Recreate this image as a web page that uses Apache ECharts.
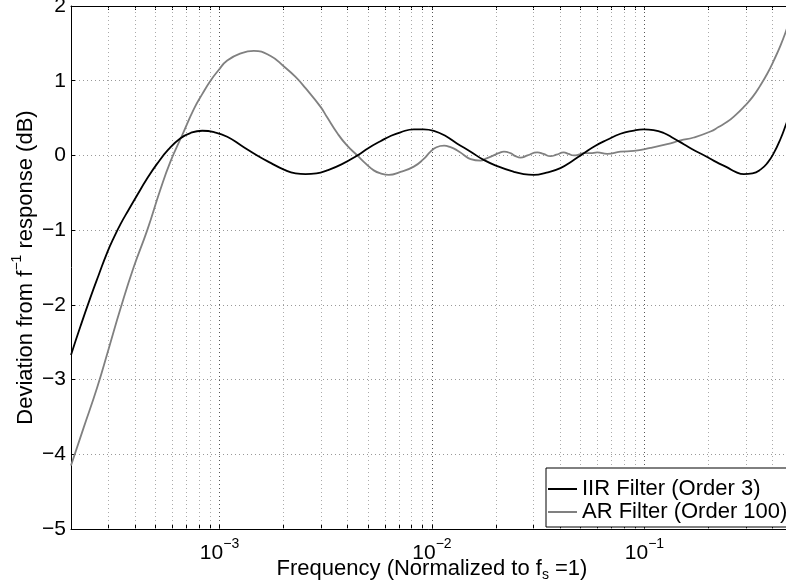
<!DOCTYPE html>
<html>
<head>
<meta charset="utf-8">
<script src="https://cdn.jsdelivr.net/npm/echarts@6/dist/echarts.min.js"></script>
<style>
  html, body { margin: 0; padding: 0; background: #fff; }
  #chart { width: 786px; height: 588px; }
</style>
</head>
<body>
<div id="chart"></div>
<script>
// IIR filter (order 3): frequency (normalized) and deviation in dB
const iirFreq = [2.00e-4, 2.22e-4, 2.47e-4, 2.70e-4, 2.96e-4, 3.17e-4, 3.42e-4, 3.73e-4, 4.10e-4, 4.54e-4,
  5.09e-4, 5.75e-4, 6.55e-4, 7.30e-4, 8.29e-4, 9.47e-4, 1.087e-3, 1.27e-3, 1.504e-3, 1.74e-3,
  2.01e-3, 2.28e-3, 2.54e-3, 2.86e-3, 3.21e-3, 3.75e-3, 4.45e-3, 5.03e-3, 5.72e-3, 6.38e-3,
  7.11e-3, 8.21e-3, 9.12e-3, 1.02e-2, 1.16e-2, 1.31e-2, 1.52e-2, 1.75e-2, 2.06e-2, 2.43e-2,
  2.70e-2, 3.01e-2, 3.46e-2, 4.02e-2, 4.54e-2, 5.18e-2, 5.88e-2, 6.68e-2, 7.71e-2, 8.78e-2,
  9.92e-2, 0.1103, 0.1233, 0.1369, 0.1531, 0.1738, 0.1973, 0.2182, 0.2451, 0.2681,
  0.2934, 0.3222, 0.3515, 0.3792, 0.4059, 0.4365, 0.4658, 0.5];
const iirDev = [-2.67, -2.28, -1.90, -1.60, -1.30, -1.11, -0.92, -0.73, -0.53, -0.32,
  -0.11, 0.08, 0.23, 0.30, 0.33, 0.31, 0.25, 0.13, 0.0, -0.10,
  -0.19, -0.24, -0.25, -0.24, -0.20, -0.12, 0.0, 0.10, 0.19, 0.26,
  0.31, 0.35, 0.35, 0.33, 0.26, 0.16, 0.05, -0.06, -0.15, -0.22,
  -0.25, -0.26, -0.23, -0.17, -0.08, 0.03, 0.13, 0.21, 0.29, 0.33,
  0.35, 0.34, 0.30, 0.23, 0.15, 0.06, -0.02, -0.09, -0.16, -0.22,
  -0.25, -0.24, -0.19, -0.10, 0.03, 0.22, 0.43, 0.65];

// AR filter (order 100)
const arFreq = [2.00e-4, 2.29e-4, 2.66e-4, 3.00e-4, 3.42e-4, 3.94e-4, 4.57e-4, 5.25e-4, 5.88e-4, 6.67e-4,
  7.57e-4, 8.29e-4, 9.07e-4, 9.89e-4, 1.087e-3, 1.27e-3, 1.45e-3, 1.74e-3, 2.01e-3, 2.28e-3,
  2.54e-3, 2.99e-3, 3.21e-3, 3.58e-3, 3.96e-3, 4.45e-3, 4.92e-3, 5.32e-3, 5.72e-3, 6.26e-3,
  7.11e-3, 8.21e-3, 9.12e-3, 9.84e-3, 1.05e-2, 1.14e-2, 1.222e-2, 1.31e-2, 1.407e-2, 1.52e-2,
  1.69e-2, 1.805e-2, 1.95e-2, 2.06e-2, 2.18e-2, 2.341e-2, 2.472e-2, 2.61e-2, 2.815e-2, 3.13e-2,
  3.347e-2, 3.61e-2, 3.854e-2, 4.17e-2, 4.389e-2, 4.65e-2, 4.893e-2, 5.18e-2, 5.57e-2, 5.99e-2,
  6.68e-2, 7.71e-2, 8.91e-2, 0.1067, 0.1279, 0.1477, 0.1706, 0.2045, 0.2230, 0.2451,
  0.2681, 0.2934, 0.3222, 0.3515, 0.3792, 0.4059, 0.4365, 0.4658, 0.5];
const arDev = [-4.15, -3.65, -3.10, -2.60, -2.05, -1.50, -1.00, -0.47, -0.08, 0.27,
  0.62, 0.82, 1.0, 1.14, 1.27, 1.37, 1.40, 1.33, 1.19, 1.05,
  0.90, 0.65, 0.51, 0.30, 0.14, 0.0, -0.12, -0.20, -0.24, -0.26,
  -0.22, -0.15, -0.05, 0.05, 0.11, 0.13, 0.11, 0.07, 0.01, -0.05,
  -0.07, -0.04, 0.0, 0.03, 0.05, 0.03, -0.01, -0.03, 0.0, 0.04,
  0.02, -0.01, 0.01, 0.04, 0.02, 0.0, 0.01, 0.03, 0.03, 0.04,
  0.02, 0.05, 0.06, 0.10, 0.15, 0.20, 0.24, 0.32, 0.38, 0.45,
  0.54, 0.65, 0.78, 0.94, 1.10, 1.27, 1.47, 1.68, 1.93];

// tick positions on the log axis
const majorX = [1e-3, 1e-2, 1e-1];
const minorX = [3e-4, 4e-4, 5e-4, 6e-4, 7e-4, 8e-4, 9e-4,
  2e-3, 3e-3, 4e-3, 5e-3, 6e-3, 7e-3, 8e-3, 9e-3,
  2e-2, 3e-2, 4e-2, 5e-2, 6e-2, 7e-2, 8e-2, 9e-2,
  2e-1, 3e-1, 4e-1];
const allX = minorX.concat(majorX).sort((a, b) => a - b);

const FONT = '"Liberation Sans", Arial, Helvetica, sans-serif';
const MINUS = '\u2212';

const chart = echarts.init(document.getElementById('chart'));

const tickTxt = { fontSize: 21, fontFamily: FONT, color: '#000' };
const tickSup = { fontSize: 14, fontFamily: FONT, color: '#000', padding: [0, 0, 18, 0] };
const nameTxt = { fontSize: 22, fontFamily: FONT, color: '#000' };
const nameSup = { fontSize: 14, fontFamily: FONT, color: '#000', padding: [0, 0, 18, 0] };
const nameSub = { fontSize: 14, fontFamily: FONT, color: '#000', padding: [12, 0, 0, 0] };

const logX = {
  type: 'log',
  logBase: 10,
  min: 2e-4,
  max: 0.5,
  axisLine: { show: true, onZero: false, lineStyle: { color: '#000', width: 1 } },
  axisTick: { show: true, inside: true, length: 4, customValues: allX, lineStyle: { color: '#000' } },
  splitLine: { show: false },
  minorTick: { show: false }
};

let option = {
  animation: false,
  backgroundColor: '#fff',
  grid: { left: 71, right: -7, top: 6, bottom: 59, outerBoundsMode: 'none' },
  legend: {
    data: ['IIR Filter (Order 3)', 'AR Filter (Order 100)'],
    orient: 'vertical',
    left: 546,
    top: 468,
    icon: 'rect',
    backgroundColor: '#fff',
    borderColor: '#000',
    borderWidth: 1,
    borderRadius: 0,
    padding: [10, 14, 4, 2],
    itemGap: 1,
    itemWidth: 29,
    itemHeight: 2,
    textStyle: { fontSize: 22, fontFamily: FONT, color: '#000' }
  },
  xAxis: [
    Object.assign({}, logX, {
      position: 'bottom',
      axisLabel: {
        customValues: majorX,
        margin: 8,
        formatter: v => '{b|10}{s|' + MINUS + Math.abs(Math.round(Math.log10(v))) + '}',
        rich: { b: tickTxt, s: tickSup }
      },
      name: '{a|Frequency (Normalized to f}{s|s}{a| =1)}',
      nameLocation: 'middle',
      nameGap: 27,
      nameMoveOverlap: false,
      nameTextStyle: { rich: { a: nameTxt, s: nameSub } }
    }),
    Object.assign({}, logX, {
      position: 'top',
      axisLabel: { show: false }
    })
  ],
  yAxis: {
    type: 'value',
    min: -5,
    max: 2,
    interval: 1,
    axisLine: { show: true, onZero: false, lineStyle: { color: '#000', width: 1 } },
    axisTick: { show: true, inside: true, length: 4, lineStyle: { color: '#000' } },
    axisLabel: {
      margin: 5,
      fontSize: 21,
      fontFamily: FONT,
      color: '#000',
      formatter: v => String(v).replace('-', MINUS)
    },
    splitLine: { show: true, lineStyle: { color: '#999', type: [1, 3], width: 1 } },
    name: '{a|Deviation from f}{s|' + MINUS + '1}{a| response (dB)}',
    nameLocation: 'middle',
    nameGap: 29,
    nameMoveOverlap: false,
    nameTextStyle: { rich: { a: nameTxt, s: nameSup } }
  },
  series: [
    {
      name: 'IIR Filter (Order 3)',
      type: 'line',
      xAxisIndex: 0,
      symbol: 'none',
      smooth: 0.5,
      z: 3,
      lineStyle: { color: '#000', width: 1.8 },
      itemStyle: { color: '#000' },
      data: iirFreq.map((f, i) => [f, iirDev[i]]),
      // dotted vertical grid at decades and their multiples
      markLine: {
        silent: true,
        z: 1,
        precision: 10,
        symbol: ['none', 'none'],
        label: { show: false },
        lineStyle: { color: '#aaa', type: [1, 3], width: 1 },
        data: allX.map(v => ({
          xAxis: v,
          lineStyle: { color: majorX.indexOf(v) >= 0 ? '#555' : '#aaa', type: [1, 3], width: 1 }
        }))
      }
    },
    {
      name: 'AR Filter (Order 100)',
      type: 'line',
      xAxisIndex: 0,
      symbol: 'none',
      smooth: 0.5,
      z: 2,
      lineStyle: { color: '#808080', width: 1.8 },
      itemStyle: { color: '#808080' },
      data: arFreq.map((f, i) => [f, arDev[i]])
    }
  ]
};

chart.setOption(option);
</script>
</body>
</html>
